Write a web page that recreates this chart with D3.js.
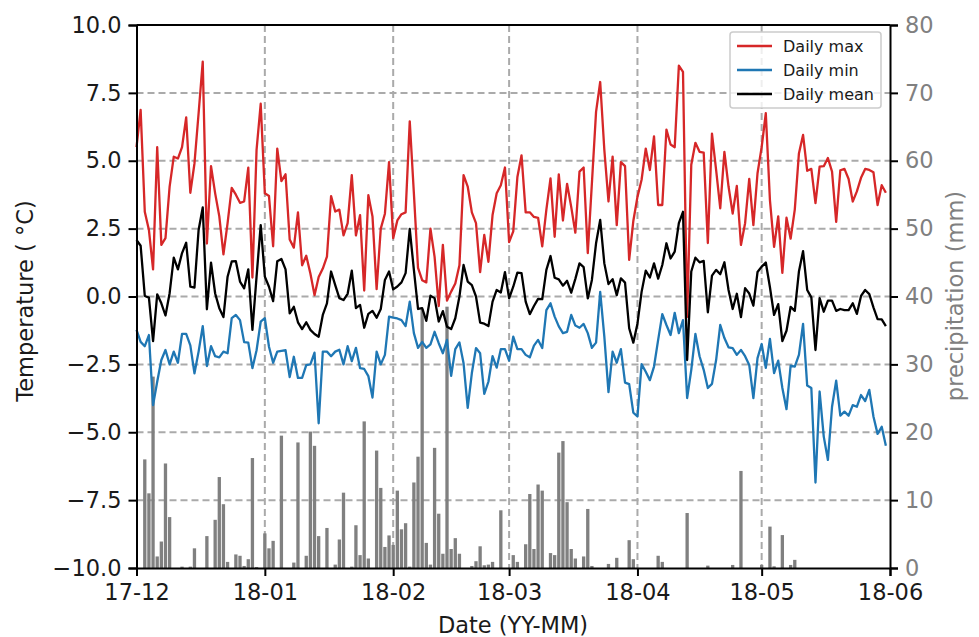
<html lang="en">
  <head>
    <meta charset="UTF-8" />
    <title>Daily temperature and precipitation</title>
    <script src="https://d3js.org/d3.v7.min.js"></script>
  </head>
  <style>
    body {
      margin: 0;
      background: white;
    }

    svg {
      display: block;
      font-family: "DejaVu Sans", sans-serif;
    }

    .grid line {
      stroke: #aaaaaa;
      stroke-width: 2px;
      stroke-dasharray: 7 4;
    }

    .axis path,
    .axis line {
      stroke: black;
      stroke-width: 2px;
    }

    .axis text {
      font-family: "DejaVu Sans", sans-serif;
      font-size: 22.5px;
      fill: #1a1a1a;
    }

    .axis.right text {
      fill: #808080;
    }

    .label {
      font-size: 22.5px;
      fill: #1a1a1a;
      text-anchor: middle;
    }
  </style>
  <body>
    <div id="viz"></div>
  </body>
  <footer>
    <script>
      // one value per day, starting 1 Dec 2017
      var dailyMax = [5.5,6.87,3.12,2.45,1.0,5.5,1.9,2.15,4.05,5.15,5.08,5.5,6.6,3.82,4.9,6.75,8.65,1.95,4.8,3.8,2.95,1.55,2.7,4.0,3.75,3.45,3.5,4.75,0.7,5.4,7.1,3.8,3.7,1.85,5.45,4.25,4.5,2.1,1.8,3.1,1.15,1.5,0.85,0.05,0.72,1.03,1.47,3.7,3.13,3.2,2.25,2.7,4.47,2.25,3.0,0.22,3.73,2.95,0.27,2.5,3.05,4.95,2.15,2.8,3.03,3.1,6.45,3.8,1.05,0.6,0.52,2.5,1.46,-0.35,1.9,-0.15,0.18,0.48,1.15,4.47,4.05,3.1,2.7,0.9,2.27,1.28,3.0,3.8,4.1,4.75,2.0,2.4,4.4,5.2,3.1,3.1,2.93,2.9,1.85,3.2,4.35,2.2,4.5,2.8,4.15,3.3,2.35,4.6,4.75,1.6,4.18,6.8,7.9,5.4,3.5,5.15,2.63,4.95,4.8,1.35,2.78,3.67,4.3,5.45,4.66,5.9,3.37,3.37,6.15,5.6,5.5,8.5,8.27,-0.75,4.85,5.66,5.33,5.3,1.97,6.0,4.66,3.25,5.33,4.05,3.05,4.07,1.9,2.7,4.33,2.63,4.54,5.5,6.75,3.55,1.83,2.95,0.87,2.9,2.13,3.2,5.27,5.95,4.63,4.7,3.44,4.78,4.8,5.1,4.6,2.75,4.65,4.7,4.33,3.5,3.87,4.37,4.7,4.66,4.58,3.37,4.1,3.82];
      var dailyMin = [-1.23,-1.67,-1.83,-1.42,-4.0,-3.14,-2.34,-1.97,-2.5,-2.03,-2.44,-1.38,-1.38,-1.8,-2.83,-2.03,-1.09,-2.56,-1.83,-2.2,-2.24,-2.03,-2.09,-0.8,-0.68,-0.87,-1.68,-1.7,-2.64,-1.98,-0.93,-0.8,-1.85,-2.44,-2.03,-2.0,-1.98,-2.97,-2.22,-3.0,-3.0,-2.53,-2.5,-2.07,-4.67,-2.03,-2.03,-2.2,-2.03,-1.96,-2.5,-1.83,-2.38,-1.89,-2.64,-2.67,-2.93,-3.72,-2.03,-2.5,-2.15,-0.74,-0.78,-0.81,-0.87,-1.09,-0.19,-1.35,-1.89,-1.67,-1.89,-1.76,-1.3,-1.72,-2.09,-1.6,-2.92,-1.94,-1.69,-2.46,-4.1,-2.82,-1.9,-2.09,-3.59,-3.14,-2.2,-2.62,-1.94,-1.94,-2.36,-1.48,-1.94,-1.94,-2.15,-2.24,-1.81,-1.6,-1.9,-0.5,-0.25,-0.74,-1.1,-1.35,-1.3,-0.68,-1.07,-1.15,-1.01,-1.35,-1.89,-1.7,0.17,-1.48,-3.52,-2.03,-2.44,-1.94,-3.17,-3.23,-4.28,-4.42,-2.49,-2.77,-3.08,-2.58,-1.6,-0.65,-1.05,-1.42,-0.6,-1.35,-0.87,-3.74,-2.7,-1.38,-2.2,-2.7,-3.37,-3.22,-2.34,-1.05,-1.53,-1.87,-1.9,-2.15,-1.97,-2.2,-2.52,-3.74,-2.27,-1.75,-2.63,-1.56,-2.82,-2.36,-3.37,-4.15,-2.55,-2.58,-2.15,-1.01,-3.28,-3.37,-6.85,-3.5,-5.16,-6.02,-4.06,-3.1,-4.39,-4.24,-4.39,-4.0,-4.06,-3.63,-3.85,-3.44,-4.42,-5.06,-4.8,-5.5];
      var dailyMean = [2.08,1.87,0.02,-0.04,-1.64,0.08,-0.25,-0.7,0.12,1.43,1.0,1.6,1.98,0.36,0.33,2.45,3.28,-0.47,1.25,0.11,-0.43,-0.76,0.73,1.29,1.3,0.55,0.3,1.0,-1.23,0.73,2.63,0.73,0.36,-0.17,1.3,1.38,1.0,-0.62,-0.38,-0.95,-1.2,-0.95,-1.23,-1.38,-1.48,-0.68,-0.25,0.92,0.42,-0.06,-0.13,0.1,0.95,-0.43,-0.31,-1.15,-0.64,-0.53,-0.78,-0.46,0.61,0.92,0.26,0.37,0.52,0.86,2.49,0.98,-0.46,-0.43,-0.9,0.03,-0.06,-0.92,-0.54,-1.11,-1.2,-0.8,0.0,1.16,0.55,0.42,0.0,-0.96,-1.0,-1.09,-0.19,0.24,0.15,0.9,-0.07,0.36,0.88,0.86,-0.19,-0.65,-0.35,-0.09,-0.1,0.98,1.49,0.69,0.63,0.4,0.58,0.14,0.65,1.22,1.08,-0.07,0.61,1.96,2.82,1.22,0.46,0.64,0.05,0.67,0.51,-1.17,-1.7,-1.0,0.17,0.95,0.7,1.22,0.66,1.16,1.96,1.4,1.65,2.7,3.12,-2.34,0.92,1.43,1.26,1.31,-0.58,0.77,0.98,0.82,1.26,0.24,-0.46,0.1,-0.76,0.31,0.11,-0.34,0.9,1.1,1.25,0.34,-0.68,-0.28,-1.64,-1.26,-0.38,-0.53,0.92,1.67,0.24,-0.03,-1.97,-0.06,-0.56,-0.15,-0.15,-0.53,-0.46,-0.5,-0.5,-0.25,-0.64,0.02,0.24,0.09,-0.4,-0.83,-0.84,-1.09];

      // wet days only: day number (0 = 1 Dec 2017) and rainfall in mm
      var rainDays = [2,3,4,5,6,7,8,11,13,14,17,19,20,21,22,24,25,26,27,28,29,31,32,33,35,38,39,41,42,43,44,46,48,49,50,52,53,54,55,56,58,59,60,61,62,63,64,65,66,67,68,69,70,71,72,73,74,75,76,77,78,81,82,83,84,85,86,88,91,92,94,95,96,97,98,100,101,102,103,104,105,106,108,109,110,114,116,119,120,126,127,133,138,144,146,151,153,154,156,158,159];
      var rainMm = [16.0,11.0,28.2,1.7,3.9,15.4,7.5,0.2,0.2,2.9,4.7,7.1,13.4,9.4,0.9,2.0,1.8,0.3,1.3,16.2,0.15,5.1,2.9,4.0,19.5,0.8,18.5,1.8,20.1,18.0,4.7,5.9,0.5,4.2,11.1,0.2,6.3,1.9,21.6,1.4,17.3,11.8,3.1,4.8,3.4,11.4,5.7,6.6,0.2,12.6,16.4,38.1,3.7,0.5,17.7,8.0,2.1,38.5,2.8,4.4,2.1,0.3,1.0,3.2,0.4,0.5,0.9,8.5,1.9,0.9,3.5,10.9,2.8,12.3,11.4,2.2,1.9,17.0,18.7,9.7,2.8,1.4,1.7,8.7,0.3,0.6,1.5,4.1,1.3,1.8,0.9,8.1,0.35,0.45,14.3,0.45,6.1,0.25,4.85,0.45,1.2];

      var monthLabels = ["17-12", "18-01", "18-02", "18-03", "18-04", "18-05", "18-06"];
      var monthStarts = [new Date(2017, 11, 1), new Date(2018, 0, 1), new Date(2018, 1, 1), new Date(2018, 2, 1), new Date(2018, 3, 1), new Date(2018, 4, 1), new Date(2018, 5, 1)];
      var tempTicks = [-10, -7.5, -5, -2.5, 0, 2.5, 5, 7.5, 10];
      var rainTicks = [0, 10, 20, 30, 40, 50, 60, 70, 80];
      var seriesNames = ["Daily max", "Daily min", "Daily mean"];
      var seriesColors = ["#d62728", "#1f77b4", "black"];

      var margin = { top: 25, right: 89, bottom: 69, left: 136.5 };
      var width = 979;
      var height = 637;
      var right = width - margin.right;
      var bottom = height - margin.bottom;

      var svg = d3.select("#viz").append("svg").attr("width", width).attr("height", height);

      function dayDate(i) {
        return d3.timeDay.offset(monthStarts[0], i);
      }

      var x = d3.scaleTime().domain([monthStarts[0], monthStarts[6]]).range([margin.left, right]);
      var yTemp = d3.scaleLinear().domain([-10, 10]).range([bottom, margin.top]);
      var yRain = d3.scaleLinear().domain([0, 80]).range([bottom, margin.top]);

      // grid
      var grid = svg.append("g").attr("class", "grid");
      grid.selectAll("line.v").data(monthStarts.slice(1, 6)).enter().append("line")
        .attr("x1", function (d) { return x(d); })
        .attr("x2", function (d) { return x(d); })
        .attr("y1", margin.top)
        .attr("y2", bottom);
      grid.selectAll("line.h").data(tempTicks.slice(1, 8)).enter().append("line")
        .attr("x1", margin.left)
        .attr("x2", right)
        .attr("y1", function (d) { return yTemp(d); })
        .attr("y2", function (d) { return yTemp(d); });

      // precipitation bars
      var barW = x(dayDate(1)) - x(dayDate(0));
      svg.append("g").selectAll("rect").data(rainDays).enter().append("rect")
        .attr("x", function (d) { return x(dayDate(d)) - barW * 0.4; })
        .attr("width", barW * 0.8)
        .attr("y", function (d, i) { return yRain(rainMm[i]); })
        .attr("height", function (d, i) { return yRain(0) - yRain(rainMm[i]); })
        .style("fill", "gray");

      // temperature lines
      var line = d3.line()
        .x(function (d, i) { return x(dayDate(i)); })
        .y(function (d) { return yTemp(d); });

      svg.append("g").selectAll("path").data([dailyMax, dailyMin, dailyMean]).enter().append("path")
        .attr("d", line)
        .style("fill", "none")
        .style("stroke-width", "2.3px")
        .style("stroke-linejoin", "round")
        .style("stroke", function (d, i) { return seriesColors[i]; });

      // axes
      var xAxis = d3.axisBottom(x).tickValues(monthStarts).tickSize(8).tickPadding(8)
        .tickFormat(function (d, i) { return monthLabels[i]; });
      var leftAxis = d3.axisLeft(yTemp).tickValues(tempTicks).tickSize(8).tickPadding(7).tickFormat(d3.format(".1f"));
      var rightAxis = d3.axisRight(yRain).tickValues(rainTicks).tickSize(8).tickPadding(7);

      svg.append("g").attr("class", "axis").attr("transform", "translate(0," + bottom + ")").call(xAxis);
      svg.append("g").attr("class", "axis").attr("transform", "translate(" + margin.left + ",0)").call(leftAxis);
      svg.append("g").attr("class", "axis right").attr("transform", "translate(" + right + ",0)").call(rightAxis);
      svg.append("line").attr("x1", margin.left).attr("x2", right).attr("y1", margin.top).attr("y2", margin.top)
        .style("stroke", "black").style("stroke-width", "2px");

      // legend
      var legend = svg.append("g").attr("transform", "translate(730,32)");
      legend.append("rect").attr("width", 151).attr("height", 76).attr("rx", 3)
        .style("fill", "white").style("fill-opacity", 0.8).style("stroke", "#cccccc").style("stroke-width", "1.5px");
      var legendRow = legend.selectAll("g").data(seriesNames).enter().append("g")
        .attr("transform", function (d, i) { return "translate(0," + (14 + i * 24) + ")"; });
      legendRow.append("line").attr("x1", 7).attr("x2", 42)
        .style("stroke-width", "2.3px")
        .style("stroke", function (d, i) { return seriesColors[i]; });
      legendRow.append("text").attr("x", 53).attr("y", 6).style("font-size", "16px").style("fill", "#1a1a1a")
        .text(function (d) { return d; });

      // axis titles
      svg.append("text").attr("class", "label").attr("x", 513).attr("y", 633).text("Date (YY-MM)");
      svg.append("text").attr("class", "label")
        .attr("transform", "translate(33,301) rotate(-90)")
        .text("Temperature ( °C)");
      svg.append("text").attr("class", "label")
        .attr("transform", "translate(963,296) rotate(-90)")
        .style("fill", "#808080")
        .text("precipitation (mm)");
    </script>
  </footer>
</html>
